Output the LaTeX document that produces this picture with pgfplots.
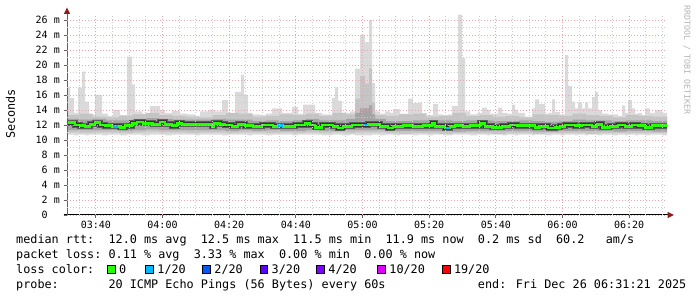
\documentclass[border=0pt]{standalone}
\usepackage{fontspec}
\setmainfont{DejaVu Sans Mono}
\setmonofont{DejaVu Sans Mono}
\usepackage{pgfplots}
\pgfplotsset{compat=1.18}
\usepackage{pgfplotstable}
\usepgfplotslibrary{fillbetween}

\definecolor{smA}{HTML}{DADADA}
\definecolor{smB}{HTML}{C4C4C4}
\definecolor{smC}{HTML}{A4A4A4}
\definecolor{smD}{HTML}{5E5E5E}
\definecolor{smE}{HTML}{343434}
\definecolor{lc0}{HTML}{26FF00}
\definecolor{lc1}{HTML}{00B8FF}
\definecolor{lc2}{HTML}{0059FF}
\definecolor{lc3}{HTML}{5E00FF}
\definecolor{lc4}{HTML}{7E00FF}
\definecolor{lc10}{HTML}{DD00FF}
\definecolor{lc19}{HTML}{FF0000}
\definecolor{mgrid}{HTML}{E8A6A6}
\definecolor{ngrid}{HTML}{CDCDCD}
\definecolor{arrowc}{HTML}{8B1C1C}
\definecolor{yaxisc}{HTML}{606060}
\definecolor{wm}{HTML}{B4B4B4}

% light smoke: outermost pings (min / max)
\pgfplotstableread{
t hi lo
31.35 17.1 10.7
32.25 15.6 10.7
33.45 13.6 10.6
34.65 17.0 10.7
35.85 19.1 10.7
36.75 15.1 10.6
37.95 13.4 10.7
39.75 16.0 10.7
41.85 13.5 10.6
43.65 13.2 10.7
45.15 14.0 10.7
47.25 13.3 10.6
49.35 21.1 10.7
50.85 17.4 10.7
51.75 13.8 10.7
53.85 13.5 10.6
56.25 14.5 10.7
59.25 14.0 10.7
60.75 13.6 10.6
62.85 13.9 10.7
65.25 13.5 10.7
67.65 13.4 10.7
69.75 13.2 10.6
71.25 13.8 10.7
73.65 14.0 10.7
75.75 13.8 10.7
77.85 15.3 10.6
79.65 13.5 10.7
81.75 16.4 10.7
83.55 18.7 10.7
84.45 16.0 10.7
85.65 13.6 10.6
86.85 13.4 10.7
89.25 13.3 10.7
91.05 13.5 10.6
92.85 14.2 10.7
95.85 13.6 10.7
98.85 14.4 10.6
100.65 13.5 10.7
102.15 14.7 10.7
105.75 13.6 10.7
107.85 13.4 10.6
110.85 15.6 10.7
111.75 17.0 10.7
112.65 15.2 10.7
113.85 13.6 10.6
116.25 13.8 10.7
117.75 19.5 10.6
119.25 24.0 10.6
120.75 23.0 10.6
121.95 26.0 10.6
122.85 17.6 10.7
123.75 13.8 10.7
125.25 13.5 10.6
126.75 13.8 10.7
128.25 13.6 10.7
129.15 14.1 10.6
131.25 13.5 10.7
133.65 15.5 10.7
135.15 14.9 10.6
136.65 15.0 10.7
137.85 13.6 10.7
139.35 13.3 10.6
141.15 14.8 10.7
142.65 13.4 10.7
144.15 13.3 10.6
145.65 13.4 10.6
146.85 14.5 10.7
148.65 26.7 10.7
149.85 20.9 10.7
150.75 13.8 10.7
152.25 13.4 10.6
154.35 13.6 10.7
155.85 14.3 10.7
157.35 14.0 10.6
158.25 13.5 10.7
160.65 14.3 10.7
161.85 13.6 10.6
163.35 13.5 10.7
164.85 14.7 10.7
165.75 14.0 10.6
166.65 13.6 10.7
168.75 13.1 10.7
170.85 14.2 10.6
171.75 15.4 10.7
172.95 14.8 10.7
174.75 13.5 10.6
175.65 13.6 10.6
176.85 15.4 10.7
177.75 13.7 10.7
179.25 13.4 10.6
180.75 21.3 10.7
181.65 17.2 10.7
182.85 15.1 10.7
183.75 14.2 10.6
184.65 15.0 10.7
185.85 14.2 10.7
186.75 15.0 10.6
187.65 14.2 10.7
188.85 15.7 10.7
189.75 16.4 10.7
190.65 14.0 10.6
191.85 13.5 10.7
193.65 13.4 10.7
194.85 13.4 10.6
196.65 13.2 10.7
197.85 14.6 10.7
198.75 13.6 10.6
199.65 15.3 10.7
200.85 14.2 10.7
201.75 13.5 10.6
202.65 13.6 10.7
203.85 13.3 10.7
204.75 14.2 10.6
206.25 13.6 10.7
207.75 14.0 10.7
209.85 13.6 10.6
211.35 13.6 10.6
}\smokeA

% second smoke band
\pgfplotstableread{
t lo hi
31.35 11.0 13.3
35 10.9 13.5
39 11.0 13.1
43 11.0 13.0
47 10.9 13.2
51 11.0 13.4
55 11.1 13.6
59 11.0 13.3
63 11.0 13.2
67 10.9 13.1
71 11.0 13.0
75 11.0 13.3
79 10.9 13.6
83 11.0 13.5
87 11.0 13.1
91 10.9 13.2
95 11.0 13.4
99 10.9 13.3
103 11.0 13.5
107 10.9 13.2
111 11.0 13.6
115 10.9 13.4
117.75 11.0 15.5
119.25 11.0 18.5
120.75 11.0 17.5
121.95 11.0 19.5
122.85 11.0 15.0
123.75 11.0 13.3
127 10.9 13.2
131 10.8 13.4
135 10.9 13.5
139 10.9 13.1
143 10.8 13.2
147 10.9 13.6
151 10.9 13.2
155 10.9 13.3
159 10.8 13.1
163 10.9 13.2
167 10.9 13.0
171 10.8 13.4
175 10.9 13.3
179 10.9 13.2
183 10.9 13.5
187 10.8 13.3
191 10.9 13.2
195 10.9 13.0
199 10.9 13.3
203 10.9 13.2
207 10.9 13.1
211.35 10.9 13.1
}\smokeB

% third smoke band
\pgfplotstableread{
t lo hi
31.35 11.3 12.8
35 11.3 12.7
39 11.3 12.8
43 11.3 12.6
47 11.2 12.6
51 11.3 12.8
55 11.4 12.9
59 11.3 12.8
63 11.3 12.7
67 11.3 12.7
71 11.3 12.7
75 11.3 12.8
79 11.2 12.7
83 11.3 12.7
87 11.2 12.5
91 11.3 12.6
95 11.2 12.5
99 11.2 12.6
103 11.3 12.8
107 11.2 12.6
111 11.2 12.6
115 11.3 12.8
117.75 11.3 13.6
119.25 11.3 14.2
121.95 11.3 14.6
122.85 11.3 13.4
123.75 11.3 12.8
127 11.2 12.5
131 11.2 12.5
135 11.2 12.6
139 11.2 12.6
143 11.2 12.6
147 11.1 12.5
151 11.2 12.6
155 11.2 12.6
159 11.2 12.5
163 11.2 12.5
167 11.2 12.6
171 11.1 12.5
175 11.1 12.4
179 11.2 12.5
183 11.2 12.7
187 11.2 12.6
191 11.2 12.6
195 11.1 12.5
199 11.2 12.6
203 11.2 12.6
207 11.1 12.5
211.35 11.1 12.5
}\smokeC

% median rtt
\pgfplotstableread{
t med
31.35 12.3
33.75 12.0
35.25 11.9
36.75 11.8
38.25 12.1
39.75 12.3
41.25 12.0
42.75 11.9
44.85 11.8
47.25 11.7
48.75 11.9
50.85 12.2
52.35 12.4
54.15 12.2
57.15 12.1
59.25 12.4
60.75 12.1
62.85 11.9
64.35 12.2
65.85 12.1
74.85 11.8
75.45 12.2
77.25 12.1
78.75 12.0
80.85 11.8
82.65 12.1
84.75 11.9
87.15 11.8
89.85 12.0
93.15 11.8
94.65 11.9
96.15 11.8
99.75 12.0
102.75 12.2
104.25 12.0
105.75 11.7
107.85 12.0
111.15 11.8
112.65 11.6
114.15 11.8
116.85 12.0
121.65 12.1
125.25 11.8
127.65 11.6
129.15 11.8
132.15 11.9
135.15 11.8
138.15 11.9
140.85 12.2
141.75 11.8
144.75 11.6
146.25 11.8
147.75 11.9
150.15 11.8
152.25 11.9
155.25 12.2
156.75 11.8
158.85 11.7
161.85 11.8
164.25 12.0
166.35 11.9
171.75 11.7
173.25 11.8
175.65 11.6
177.75 11.7
179.25 11.8
180.75 12.0
183.75 11.9
185.85 12.0
188.85 11.8
190.35 12.1
191.85 11.7
194.25 11.8
196.65 12.0
198.75 11.8
200.85 12.0
202.65 11.9
204.75 11.7
206.85 11.9
211.35 11.9
}\median

\newcommand{\legfont}{\fontsize{11.8bp}{14bp}\selectfont}
\newcommand{\tickfont}{\fontsize{10bp}{12bp}\selectfont}

\begin{document}
\begin{tikzpicture}
\begin{axis}[
  at={(67bp,82bp)}, anchor=south west,
  scale only axis, width=600bp, height=200bp,
  xmin=31.35, xmax=211.35, ymin=0, ymax=26.667,
  axis on top,
  axis lines*=left,
  axis line style={draw=none},
  xtick={40,60,...,200},
  xticklabels={03:40,04:00,04:20,04:40,05:00,05:20,05:40,06:00,06:20},
  minor xtick={35,45,50,55,65,70,75,85,90,95,105,110,115,125,130,135,145,150,155,165,170,175,185,190,195,205,210},
  ytick={0,2,...,26},
  yticklabels={0\phantom{\ m},2 m,4 m,6 m,8 m,10 m,12 m,14 m,16 m,18 m,20 m,22 m,24 m,26 m},
  minor ytick={1,3,...,25},
  grid=both,
  major grid style={mgrid, dash pattern=on 1bp off 2bp, line width=0.9bp},
  minor grid style={ngrid, dash pattern=on 1bp off 2bp, line width=0.9bp},
  tick align=outside,
  major tick length=3.5bp, minor tick length=0pt,
  major tick style={yaxisc, line width=0.9bp},
  xticklabel style={font=\tickfont, anchor=north, inner sep=0pt, yshift=-2bp},
  yticklabel style={font=\tickfont, anchor=east, inner sep=0pt, xshift=-3.5bp},
]
\addplot[name path=Ahi, draw=none, const plot] table[x=t,y=hi]{\smokeA};
\addplot[name path=Alo, draw=none, const plot] table[x=t,y=lo]{\smokeA};
\addplot[fill=smA, draw=none] fill between[of=Ahi and Alo];
\addplot[name path=Bhi, draw=none, const plot] table[x=t,y=hi]{\smokeB};
\addplot[name path=Blo, draw=none, const plot] table[x=t,y=lo]{\smokeB};
\addplot[fill=smB, draw=none] fill between[of=Bhi and Blo];
\addplot[name path=Chi, draw=none, const plot] table[x=t,y=hi]{\smokeC};
\addplot[name path=Clo, draw=none, const plot] table[x=t,y=lo]{\smokeC};
\addplot[fill=smC, draw=none] fill between[of=Chi and Clo];
\addplot[const plot, smD, line width=6bp, line join=miter] table[x=t,y=med]{\median};
\addplot[const plot, smE, line width=4bp, line join=miter] table[x=t,y=med]{\median};
\addplot[const plot, lc0, line width=2.6bp] table[x=t,y=med]{\median};
\addplot[lc1, line width=2.6bp] coordinates {(45.15,11.8) (46.65,11.8)};
\addplot[lc1, line width=2.6bp] coordinates {(94.65,11.9) (96.15,11.9)};
\addplot[lc1, line width=2.6bp] coordinates {(119.85,12.0) (121.65,12.0)};
\addplot[lc1, line width=2.6bp] coordinates {(144.75,11.6) (146.25,11.6)};
\end{axis}
% axis lines and arrows
\draw[black, line width=1bp] (63.5bp,82bp) -- (668bp,82bp);
\draw[yaxisc, line width=1bp] (67bp,82bp) -- (67bp,284bp);
\fill[arrowc] (67bp,289.5bp) -- (63.8bp,283bp) -- (70.2bp,283bp) -- cycle;
\fill[arrowc] (674bp,82bp) -- (667.5bp,78.8bp) -- (667.5bp,85.2bp) -- cycle;
% y label and watermark
\node[rotate=90, font=\legfont, inner sep=0pt] at (10.5bp,183bp) {Seconds};
\node[rotate=-90, font=\fontsize{8.3bp}{10bp}\selectfont, text=wm, inner sep=0pt] at (687bp,237bp) {RRDTOOL / TOBI OETIKER};
% legend
\node[anchor=base west, inner sep=0pt, font=\legfont] at (16bp,53.7bp) {median rtt:~~12.0 ms avg~~12.5 ms max~~11.5 ms min~~11.9 ms now~~0.2 ms sd~~60.2~~~am/s};
\node[anchor=base west, inner sep=0pt, font=\legfont] at (16bp,38.5bp) {packet loss:~0.11 \% avg~~3.33 \% max~~0.00 \% min~~0.00 \% now};
\node[anchor=base west, inner sep=0pt, font=\legfont] at (16bp,23.5bp) {loss color:};
\foreach \xs/\col/\lab in {107.3/lc0/0, 145.7/lc1/1\slash20, 202.7/lc2/2\slash20, 260/lc3/3\slash20, 316.7/lc4/4\slash20, 377.7/lc10/10\slash20, 442.3/lc19/19\slash20}{
  \draw[black, fill=\col, line width=0.8bp] (\xs bp,23.7bp) rectangle ++(7.6bp,7.6bp);
  \node[anchor=base west, inner sep=0pt, font=\legfont] at (\xs bp+11.5bp,23.5bp) {\lab};
}
\node[anchor=base west, inner sep=0pt, font=\legfont] at (16bp,8.5bp) {probe:~~~~~~~20 ICMP Echo Pings (56 Bytes) every 60s~~~~~~~~~~~~~end: Fri Dec 26 06:31:21 2025};
\pgfresetboundingbox
\useasboundingbox (0,0) rectangle (697bp,297bp);
\end{tikzpicture}
\end{document}
